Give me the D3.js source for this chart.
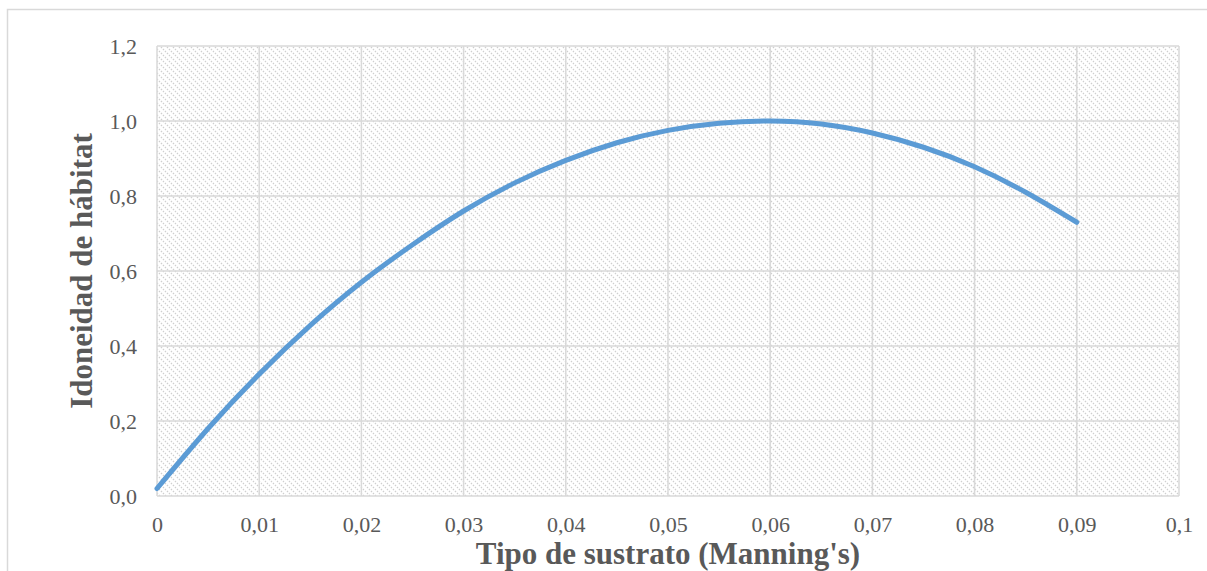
<!DOCTYPE html>
<html>
<head>
  <script src="https://d3js.org/d3.v7.min.js"></script>
  <style>
    body { margin: 0; background: #fff; }
    .tick text { font-family: "Liberation Serif", "Times New Roman", serif; font-size: 22px; fill: #595959; }
    .axisLabel { font-family: "Liberation Serif", "Times New Roman", serif; font-size: 31px; font-weight: bold; fill: #595959; }
  </style>
</head>
<body>
  <div id="chart"></div>
  <script>
    // data
    let xValues = [0, 0.005, 0.01, 0.015, 0.02, 0.025, 0.03, 0.035, 0.04, 0.045,
                   0.05, 0.055, 0.06, 0.065, 0.07, 0.075, 0.08, 0.085, 0.09];
    let yValues = [0.02, 0.18, 0.325, 0.455, 0.57, 0.67, 0.76, 0.835, 0.895, 0.942,
                   0.975, 0.994, 1.0, 0.992, 0.968, 0.93, 0.878, 0.81, 0.73];
    let xTicks = [0, 0.01, 0.02, 0.03, 0.04, 0.05, 0.06, 0.07, 0.08, 0.09, 0.1];
    let yTicks = [0, 0.2, 0.4, 0.6, 0.8, 1.0, 1.2];

    let width = 1207, height = 571;
    let margin = {top: 46, left: 157, right: 28, bottom: 75};

    let svg = d3.select("#chart").append("svg")
      .attr("width", width)
      .attr("height", height);

    // hatch fill of plot area
    let defs = svg.append("defs");
    let pat = defs.append("pattern")
      .attr("id", "hatch")
      .attr("patternUnits", "userSpaceOnUse")
      .attr("width", 6).attr("height", 6);
    pat.append("path")
      .attr("d", "M-1,-1 L7,7 M-1,5 L1,7 M5,-1 L7,1")
      .attr("stroke", "#cfcfcf")
      .attr("stroke-width", 1.3)
      .attr("stroke-dasharray", "1.4,1.4");

    // outer chart border
    svg.append("rect")
      .attr("x", 7.5).attr("y", 9.5)
      .attr("width", width).attr("height", height)
      .attr("fill", "none")
      .attr("stroke", "#d9d9d9")
      .attr("stroke-width", 1.5);

    let xScale = d3.scaleLinear()
      .domain([0, 0.1])
      .range([margin.left, width - margin.right]);

    let yScale = d3.scaleLinear()
      .domain([0, 1.2])
      .range([height - margin.bottom, margin.top]);

    svg.append("rect")
      .attr("x", margin.left)
      .attr("y", margin.top)
      .attr("width", xScale(0.1) - margin.left)
      .attr("height", yScale(0) - margin.top)
      .attr("fill", "url(#hatch)");

    // grid lines
    svg.append("g").selectAll("line")
      .data(xTicks)
      .enter().append("line")
        .attr("x1", d => xScale(d)).attr("x2", d => xScale(d))
        .attr("y1", yScale(0)).attr("y2", yScale(1.2))
        .attr("stroke", "#d9d9d9").attr("stroke-width", 1.5);

    svg.append("g").selectAll("line")
      .data(yTicks)
      .enter().append("line")
        .attr("x1", xScale(0)).attr("x2", xScale(0.1))
        .attr("y1", d => yScale(d)).attr("y2", d => yScale(d))
        .attr("stroke", "#d9d9d9").attr("stroke-width", 1.5);

    // axes (labels only)
    let fmtX = d => d === 0 ? "0" : d3.format(".2~f")(d).replace(".", ",");
    let fmtY = d => d3.format(".1f")(d).replace(".", ",");

    let xAxis = svg.append("g")
      .attr("transform", `translate(0, ${yScale(0)})`)
      .call(d3.axisBottom(xScale).tickValues(xTicks).tickFormat(fmtX).tickSize(0).tickPadding(20));
    xAxis.select(".domain").remove();

    let yAxis = svg.append("g")
      .attr("transform", `translate(${margin.left},0)`)
      .call(d3.axisLeft(yScale).tickValues(yTicks).tickFormat(fmtY).tickSize(0).tickPadding(20));
    yAxis.select(".domain").remove();

    // curve
    let data = xValues.map((x, i) => ({x: x, y: yValues[i]}));
    let line = d3.line()
      .x(d => xScale(d.x))
      .y(d => yScale(d.y))
      .curve(d3.curveNatural);

    svg.append("path")
      .datum(data)
      .attr("d", line)
      .attr("fill", "none")
      .attr("stroke", "#5b9bd5")
      .attr("stroke-width", 5)
      .attr("stroke-linecap", "round");

    // axis titles
    svg.append("text")
      .attr("class", "axisLabel")
      .attr("x", (xScale(0) + xScale(0.1)) / 2)
      .attr("y", 564)
      .attr("text-anchor", "middle")
      .text("Tipo de sustrato (Manning's)");

    svg.append("text")
      .attr("class", "axisLabel")
      .attr("transform", "rotate(-90)")
      .attr("x", -(yScale(0) + yScale(1.2)) / 2)
      .attr("y", 92)
      .attr("text-anchor", "middle")
      .text("Idoneidad de hábitat");
  </script>
</body>
</html>
